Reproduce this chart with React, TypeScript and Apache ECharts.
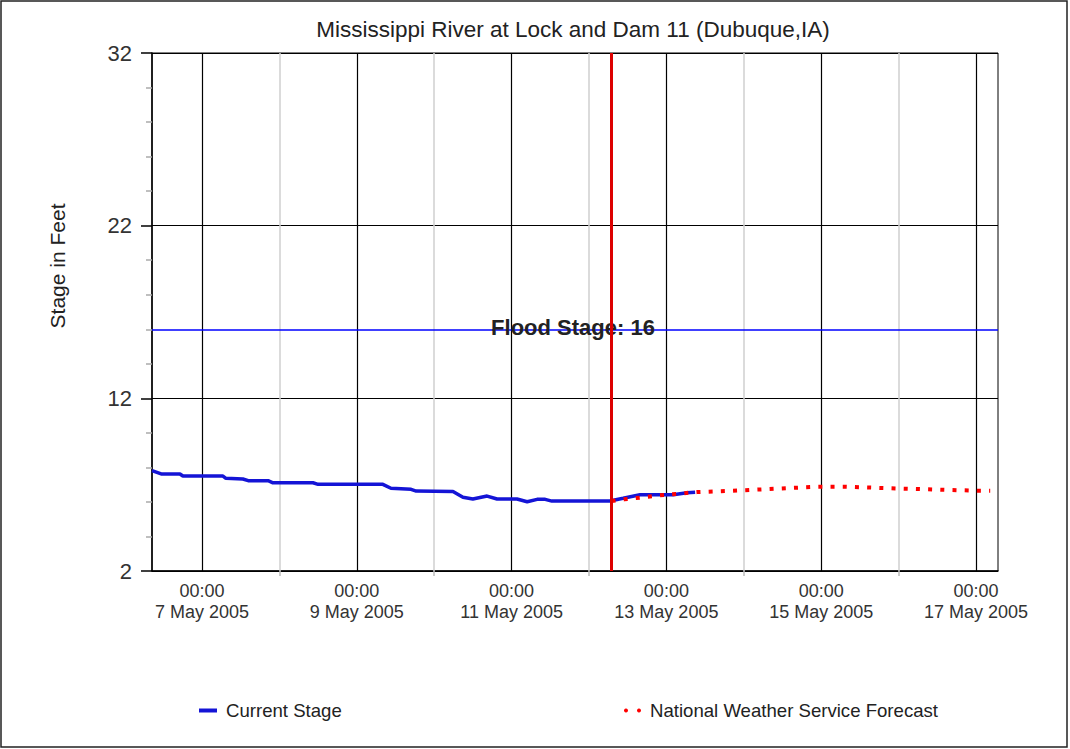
import React, { useEffect, useRef } from 'react';
import * as echarts from 'echarts';

const titleText = 'Mississippi River at Lock and Dam 11 (Dubuque,IA)';
const yAxisName = 'Stage in Feet';

const stageTimes = [
  '2005-05-06 08:30', '2005-05-06 11:20', '2005-05-06 17:10', '2005-05-06 18:05',
  '2005-05-07 06:30', '2005-05-07 07:25', '2005-05-07 12:40', '2005-05-07 14:20',
  '2005-05-07 20:30', '2005-05-07 22:00', '2005-05-08 10:25', '2005-05-08 12:00',
  '2005-05-09 08:05', '2005-05-09 10:35', '2005-05-09 16:50', '2005-05-09 18:25',
  '2005-05-10 05:50', '2005-05-10 08:55', '2005-05-10 12:00', '2005-05-10 16:25',
  '2005-05-10 19:30', '2005-05-11 01:40', '2005-05-11 04:50', '2005-05-11 07:55',
  '2005-05-11 10:25', '2005-05-11 12:30', '2005-05-12 06:30', '2005-05-12 10:35',
  '2005-05-12 15:50', '2005-05-13 02:05', '2005-05-13 06:25', '2005-05-13 08:55',
];
const stageValues = [
  7.81, 7.62, 7.62, 7.5,
  7.5, 7.37, 7.33, 7.23,
  7.23, 7.11, 7.11, 7.02,
  7.02, 6.79, 6.73, 6.63,
  6.6, 6.27, 6.17, 6.34,
  6.17, 6.17, 6.01, 6.15,
  6.15, 6.05, 6.05, 6.21,
  6.42, 6.42, 6.53, 6.56,
];

const forecastTimes = [
  '2005-05-12 07:00', '2005-05-12 10:55', '2005-05-12 18:20', '2005-05-12 22:00',
  '2005-05-13 09:30', '2005-05-13 20:40', '2005-05-14 23:00', '2005-05-15 06:50',
  '2005-05-16 01:25', '2005-05-17 00:20', '2005-05-17 04:25',
];
const forecastValues = [
  6.05, 6.15, 6.3, 6.38,
  6.57, 6.65, 6.88, 6.88,
  6.77, 6.65, 6.65,
];

const floodStage = 16;
const nowTime = '2005-05-12 07:00';
const xMinTime = '2005-05-06 08:30';
const xMaxTime = '2005-05-17 06:50';
const majorDays = ['2005-05-07 00:00', '2005-05-09 00:00', '2005-05-11 00:00', '2005-05-13 00:00', '2005-05-15 00:00', '2005-05-17 00:00'];
const minorDays = ['2005-05-08 00:00', '2005-05-10 00:00', '2005-05-12 00:00', '2005-05-14 00:00', '2005-05-16 00:00'];
const yMin = 2;
const yMax = 32;
const yStep = 10;
const monthNames = ['Jan', 'Feb', 'Mar', 'Apr', 'May', 'Jun', 'Jul', 'Aug', 'Sep', 'Oct', 'Nov', 'Dec'];

const ts = (s: string) => new Date(s.replace(' ', 'T')).getTime();
const pad = (n: number) => (n < 10 ? '0' + n : '' + n);
const FONT = '"Liberation Sans", Arial, Helvetica, sans-serif';

export default function App() {
  const ref = useRef<HTMLDivElement>(null);
  useEffect(() => {
    document.body.style.margin = '0';
    if (!ref.current) return;
    const chart = echarts.init(ref.current, undefined, { renderer: 'svg' });
    const stageData = stageTimes.map((t, i) => [ts(t), stageValues[i]]);
    const forecastData = forecastTimes.map((t, i) => [ts(t), forecastValues[i]]);
    const option: any = {
      animation: false,
      textStyle: { fontFamily: FONT },
      title: {
        text: titleText,
        left: 573,
        top: 18,
        padding: 0,
        textAlign: 'center',
        textStyle: { fontFamily: FONT, fontSize: 22.5, fontWeight: 'normal', color: '#222' },
      },
      grid: {
        left: 152, right: 72, top: 53, bottom: 178,
        show: true, borderColor: '#000', borderWidth: 1, backgroundColor: 'transparent',
      },
      legend: [
        {
          data: ['Current Stage'], left: 199, top: 701, padding: 0, icon: 'rect',
          itemWidth: 18, itemHeight: 4,
          itemStyle: { borderWidth: 0, borderColor: 'transparent' },
          textStyle: { fontFamily: FONT, fontSize: 18.6, color: '#222', padding: [0, 0, 0, 4] },
        },
        {
          data: ['National Weather Service Forecast'], left: 624, top: 701, padding: 0,
          icon: 'path://M2,0a2,2 0 1,0 0.001,0zM15,0a2,2 0 1,0 0.001,0z',
          itemWidth: 17, itemHeight: 4,
          itemStyle: { borderWidth: 0, borderColor: 'transparent' },
          textStyle: { fontFamily: FONT, fontSize: 18.6, color: '#222', padding: [0, 0, 0, 4] },
        },
      ],
      xAxis: {
        type: 'value',
        min: ts(xMinTime),
        max: ts(xMaxTime),
        axisLine: { lineStyle: { color: '#000', width: 1.5 } },
        splitLine: { show: false },
        axisTick: {
          show: true, length: 5, customValues: minorDays.map(ts),
          lineStyle: { color: '#bbb', width: 1.5 },
        },
        axisLabel: {
          customValues: majorDays.map(ts),
          margin: 9,
          fontFamily: FONT, fontSize: 18, lineHeight: 21, color: '#333',
          formatter: (v: number) => {
            const d = new Date(v);
            return `${pad(d.getHours())}:${pad(d.getMinutes())}\n${d.getDate()} ${monthNames[d.getMonth()]} ${d.getFullYear()}`;
          },
        },
      },
      yAxis: {
        type: 'value',
        min: yMin, max: yMax, interval: yStep,
        axisLine: { show: true, lineStyle: { color: '#000', width: 1.5 } },
        axisTick: { show: true, length: 11, lineStyle: { color: '#000', width: 1.5 } },
        minorTick: { show: true, splitNumber: 5, length: 6, lineStyle: { color: '#aaa', width: 1.5 } },
        splitLine: { show: true, lineStyle: { color: '#000', width: 1.2 } },
        axisLabel: { margin: 20, fontFamily: FONT, fontSize: 22, color: '#333' },
      },
      graphic: [
        {
          type: 'text', x: 57, y: 266, rotation: Math.PI / 2,
          style: { text: yAxisName, fontFamily: FONT, fontSize: 21, fill: '#222', align: 'center', verticalAlign: 'middle' },
        },
        {
          type: 'rect', shape: { x: 1, y: 1, width: 1066, height: 746 }, silent: true,
          style: { fill: 'none', stroke: '#222', lineWidth: 1.5 },
        },
      ],
      series: [
        {
          name: 'gridlines', type: 'line', data: [], silent: true,
          markLine: {
            z: 1, silent: true, symbol: 'none', label: { show: false },
            data: [
              ...majorDays.map((t) => ({ xAxis: ts(t), lineStyle: { color: '#000', width: 1.2, type: 'solid' } })),
              ...minorDays.map((t) => ({ xAxis: ts(t), lineStyle: { color: '#cfcfcf', width: 1.5, type: 'solid' } })),
            ],
          },
        },
        {
          name: 'Current Stage', type: 'line', data: stageData, symbol: 'none', z: 5,
          lineStyle: { color: '#1414d6', width: 3.5 },
          itemStyle: { color: '#1414d6' },
          markLine: {
            z: 3, silent: true, symbol: 'none',
            lineStyle: { color: '#0000ff', width: 1.5, type: 'solid' },
            label: {
              show: true, position: 'middle', formatter: 'Flood Stage: ' + floodStage,
              fontFamily: FONT, fontSize: 22, fontWeight: 'bold', color: '#222',
              verticalAlign: 'middle', distance: 0, offset: [-2, -2],
            },
            data: [{ yAxis: floodStage }],
          },
        },
        {
          name: 'National Weather Service Forecast', type: 'line', data: forecastData, symbol: 'none', z: 6,
          lineStyle: { color: '#ff0000', width: 4, type: [4, 8.2], cap: 'butt' },
          itemStyle: { color: '#ff0000' },
          markLine: {
            z: 8, silent: true, symbol: 'none', label: { show: false },
            lineStyle: { color: '#dd0000', width: 3, type: 'solid' },
            data: [{ xAxis: ts(nowTime) }],
          },
        },
      ],
    };
    chart.setOption(option);
    return () => chart.dispose();
  }, []);
  return <div ref={ref} style={{ width: 1070, height: 749 }} />;
}
